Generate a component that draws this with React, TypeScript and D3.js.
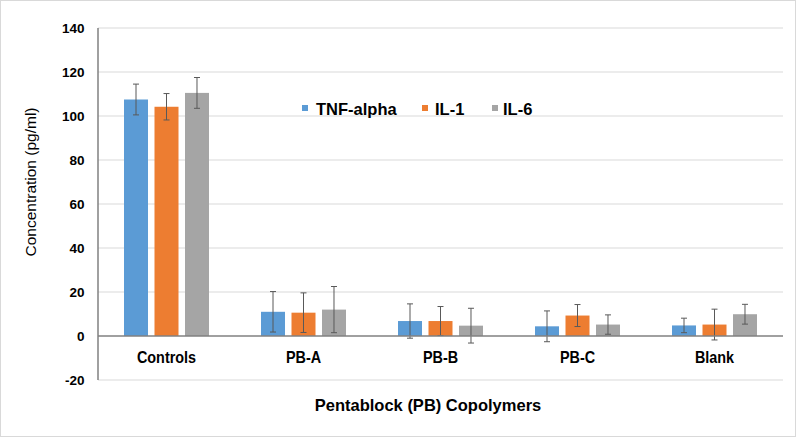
import React from "react";
import * as d3 from "d3";

const categories = ["Controls", "PB-A", "PB-B", "PB-C", "Blank"];
const seriesNames = ["TNF-alpha", "IL-1", "IL-6"];
const tnfValues = [107.5, 11, 6.8, 4.4, 4.8];
const tnfErrors = [7, 9.2, 7.8, 7, 3.3];
const il1Values = [104.2, 10.6, 6.8, 9.3, 5.2];
const il1Errors = [6, 9, 6.6, 5, 7];
const il6Values = [110.5, 12, 4.7, 5.2, 9.9];
const il6Errors = [7, 10.5, 7.9, 4.4, 4.5];
const yTicks = [-20, 0, 20, 40, 60, 80, 100, 120, 140];
const colors = ["#5B9BD5", "#ED7D31", "#A5A5A5"];

const W = 800;
const H = 438;
const font = "'Liberation Sans', Arial, sans-serif";

export default function App() {
  const left = 98;
  const right = 783;
  const y = d3.scaleLinear().domain([-20, 140]).range([380, 28]);
  const x0 = d3.scaleBand<string>().domain(categories).range([left, right]).padding(0);
  const x1 = d3
    .scaleBand<string>()
    .domain(seriesNames)
    .range([-42.5, 42.5])
    .paddingInner(0.213)
    .paddingOuter(0);
  const values = [tnfValues, il1Values, il6Values];
  const errors = [tnfErrors, il1Errors, il6Errors];

  const legendItems = [
    { sx: 302, tx: 316 },
    { sx: 422, tx: 435 },
    { sx: 492, tx: 503 },
  ];

  return (
    <svg
      width={W}
      height={H}
      style={{ position: "absolute", left: 0, top: 0, background: "#fff" }}
      fontFamily={font}
    >
      <rect x={0.5} y={0.5} width={795} height={436} fill="#fff" stroke="#d9d9d9" />
      {yTicks.map((t) => (
        <g key={t}>
          {t !== 0 && (
            <line x1={left} x2={right} y1={y(t)} y2={y(t)} stroke="#d9d9d9" strokeWidth={1} />
          )}
          <text
            x={84.5}
            y={y(t)}
            textAnchor="end"
            dominantBaseline="central"
            fontSize={13.5}
            fontWeight="bold"
            fill="#000"
          >
            {t}
          </text>
        </g>
      ))}
      {categories.map((c, ci) => (
        <g key={c} transform={`translate(${x0(c)! + x0.bandwidth() / 2},0)`}>
          {seriesNames.map((s, si) => {
            const v = values[si][ci];
            const e = errors[si][ci];
            const bx = x1(s)!;
            const cx = bx + x1.bandwidth() / 2;
            return (
              <g key={s}>
                <rect
                  x={bx}
                  y={Math.min(y(v), y(0))}
                  width={x1.bandwidth()}
                  height={Math.abs(y(0) - y(v))}
                  fill={colors[si]}
                />
                <line x1={cx} x2={cx} y1={y(v + e)} y2={y(v - e)} stroke="#595959" strokeWidth={1} />
                <line x1={cx - 3} x2={cx + 3} y1={y(v + e)} y2={y(v + e)} stroke="#595959" strokeWidth={1} />
                <line x1={cx - 3} x2={cx + 3} y1={y(v - e)} y2={y(v - e)} stroke="#595959" strokeWidth={1} />
              </g>
            );
          })}
          <text
            transform="translate(0,357.5) scale(0.9,1)"
            textAnchor="middle"
            dominantBaseline="central"
            fontSize={16}
            fontWeight="bold"
            fill="#000"
          >
            {c}
          </text>
        </g>
      ))}
      <line x1={left} x2={right} y1={y(0)} y2={y(0)} stroke="#808080" strokeWidth={1.5} />
      <line x1={left} x2={left} y1={y(140)} y2={y(-20)} stroke="#808080" strokeWidth={1.5} />
      {seriesNames.map((s, i) => (
        <g key={s}>
          <rect x={legendItems[i].sx} y={105} width={6} height={6} fill={colors[i]} />
          <text
            x={legendItems[i].tx}
            y={108.5}
            dominantBaseline="central"
            fontSize={16.5}
            fontWeight="bold"
            fill="#000"
          >
            {s}
          </text>
        </g>
      ))}
      <text
        x={428}
        y={405}
        textAnchor="middle"
        dominantBaseline="central"
        fontSize={16.5}
        fontWeight="bold"
        fill="#000"
      >
        Pentablock (PB) Copolymers
      </text>
      <text
        transform={`translate(30,182) rotate(-90)`}
        textAnchor="middle"
        dominantBaseline="central"
        fontSize={15.5}
        fill="#000"
      >
        Concentration (pg/ml)
      </text>
    </svg>
  );
}
